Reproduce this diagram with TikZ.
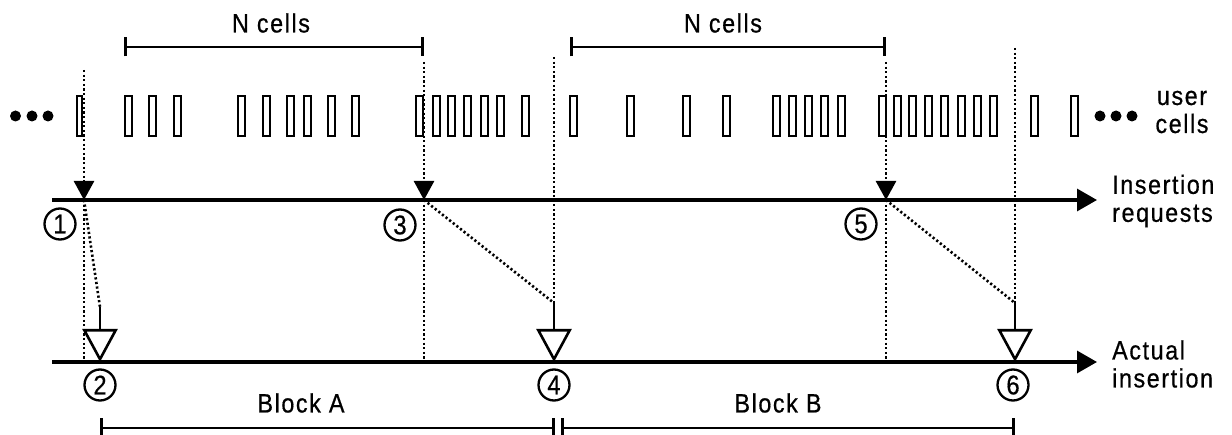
\documentclass[tikz,border=0pt]{standalone}
\usepackage{fontspec}
\setmainfont{Liberation Sans}[FakeStretch=0.88,LetterSpace=6,FakeBold=0.6]
\usetikzlibrary{arrows.meta}
\begin{document}
\begin{tikzpicture}[x=1pt,y=-1pt,
  cellbox/.style={draw, line width=2.1pt, minimum width=7.2pt, minimum height=40pt, inner sep=0pt},
  dotbullet/.style={fill, circle, minimum size=11pt, inner sep=0pt},
  axisline/.style={line width=3.2pt, -{Triangle[length=20pt,width=22pt]}},
  dotline/.style={line width=2.6pt, dash pattern=on 2.2pt off 2.4pt},
  reqarrow/.style={dotline, -{Triangle[length=19pt,width=20pt]}},
  insarrow/.style={line width=2.6pt, -{Triangle[open,length=33pt,width=35pt]}},
  bracket/.style={line width=2.6pt, {Bar[width=19pt]}-{Bar[width=19pt]}},
  numlabel/.style={draw, circle, line width=2.3pt, minimum size=31pt, inner sep=0pt, font=\fontsize{27}{27}\selectfont},
  lbl/.style={font=\fontsize{26.5}{28}\selectfont, inner sep=0pt},
]
\useasboundingbox (0,0) rectangle (1232,435);

% user cells
\node[cellbox, minimum width=5.2pt] (c0) at (79.7,116) {};
\foreach \x [count=\i] in {124,148,173,237,262,286,303,327,351,415,432,447,463,480,496,521,569,626,682,722,772,788,804,820,837,878,893,908,924,940,957,973,989,1030,1070}
  \node[cellbox] (c\i) at (\x+4.6,116) {};

% ellipsis dots
\foreach \x [count=\i] in {15.5,32,48}
  \node[dotbullet] (ld\i) at (\x,116) {};
\foreach \x [count=\i] in {1100,1116,1132}
  \node[dotbullet] (rd\i) at (\x,116) {};

\node[lbl, align=center] (usercells) at (1182,112) {user\\cells};

% axes
\coordinate (ax1s) at (52,200);
\coordinate (ax1e) at (1097,200);
\coordinate (ax2s) at (52,362);
\coordinate (ax2e) at (1097,362);
\draw[axisline] (ax1s) -- (ax1e);
\draw[axisline] (ax2s) -- (ax2e);
\node[lbl, anchor=west, align=left] (lreq) at (1112,201) {Insertion\\requests};
\node[lbl, anchor=west, align=left] (lact) at (1112,364) {Actual\\insertion};

% key coordinates
\coordinate (r1t) at (84,70);   \coordinate (r1) at (84,200);   \coordinate (r1b) at (84,362);
\coordinate (r3t) at (424,62);  \coordinate (r3) at (424,200);  \coordinate (r3b) at (424,362);
\coordinate (r5t) at (886,62);  \coordinate (r5) at (886,200);  \coordinate (r5b) at (886,362);
\coordinate (a2s) at (100,307); \coordinate (a2) at (100,362);
\coordinate (a4t) at (554,57);  \coordinate (a4s) at (554,303); \coordinate (a4) at (554,362);
\coordinate (a6t) at (1015,48); \coordinate (a6s) at (1015,303); \coordinate (a6) at (1015,362);

% insertion requests
\draw[reqarrow] (r1t) -- (r1);
\draw[reqarrow] (r3t) -- (r3);
\draw[reqarrow] (r5t) -- (r5);
\draw[dotline] (r1) -- (r1b);
\draw[dotline] (r3) -- (r3b);
\draw[dotline] (r5) -- (r5b);
\draw[dotline] (r1) -- (a2s);
\draw[dotline] (r3) -- (a4s);
\draw[dotline] (r5) -- (a6s);
\draw[dotline] (a4t) -- (a4s);
\draw[dotline] (a6t) -- (a6s);

% actual insertions
\draw[insarrow] (a2s) -- (a2);
\draw[insarrow] (a4s) -- (a4);
\draw[insarrow] (a6s) -- (a6);

% numbered circles
\node[numlabel] (n1) at (60,224) {1};
\node[numlabel] (n2) at (100,385) {2};
\node[numlabel] (n3) at (400,225) {3};
\node[numlabel] (n4) at (554,385) {4};
\node[numlabel] (n5) at (861,224) {5};
\node[numlabel] (n6) at (1013,385) {6};

% N cells brackets
\coordinate (nA1) at (124,47); \coordinate (nA2) at (424,47);
\coordinate (nB1) at (570,47); \coordinate (nB2) at (886,47);
\draw[bracket] (nA1) -- (nA2);
\draw[bracket] (nB1) -- (nB2);
\node[lbl] (ncA) at (271,23) {N cells};
\node[lbl] (ncB) at (723,23) {N cells};

% block brackets
\coordinate (bA1) at (100,428); \coordinate (bA2) at (555,428);
\coordinate (bB1) at (561,428); \coordinate (bB2) at (1015,428);
\draw[bracket] (bA1) -- (bA2);
\draw[bracket] (bB1) -- (bB2);
\node[lbl] (blA) at (301,403) {Block A};
\node[lbl] (blB) at (778,403) {Block B};
\end{tikzpicture}
\end{document}
